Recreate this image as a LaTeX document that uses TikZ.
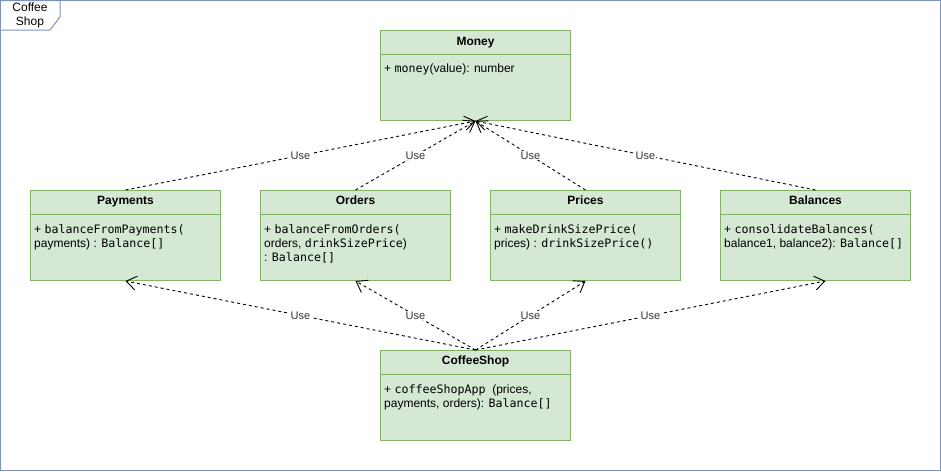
\documentclass[tikz,border=0pt]{standalone}
\usepackage{fontspec}
\setmainfont{Liberation Sans}
\newfontfamily\cdfont{DejaVu Sans Mono}[Scale=0.97]
\newcommand{\cd}[1]{{\cdfont #1}}
\usetikzlibrary{arrows.meta}
\definecolor{classfill}{HTML}{D5E8D4}
\definecolor{classdraw}{HTML}{82B366}
\definecolor{framecol}{HTML}{7D92B8}
\definecolor{lblcol}{HTML}{333333}
\tikzset{
  cls/.style={draw=classdraw, fill=classfill, line width=1pt, minimum width=190pt, minimum height=90pt, anchor=north west, inner sep=0pt},
  sepline/.style={draw=classdraw, line width=1pt},
  ttl/.style={font=\bfseries\fontsize{12}{14}\selectfont, anchor=base, inner sep=0pt},
  body/.style={font=\fontsize{12}{14}\selectfont, align=left, anchor=north west, inner sep=0pt},
  use/.style={draw=black, line width=0.9pt, dash pattern=on 3pt off 3pt, -{Straight Barb[length=10pt,width=14pt]}},
  lbl/.style={fill=white, font=\fontsize{11}{13}\selectfont, text=lblcol, inner sep=1pt},
  frm/.style={draw=framecol, line width=1pt}
}
\begin{document}
\begin{tikzpicture}[x=1pt,y=-1pt]
\useasboundingbox (0,0) rectangle (941,471);
% outer frame
\draw[frm] (0.5,0.5) rectangle (940.5,470.5);
\draw[frm] (0.5,0.5) -- (60,0.5) -- (60,17) -- (50,30) -- (0.5,30);
\node[font=\fontsize{12}{14}\selectfont, align=center, inner sep=0pt] (frameT) at (30,15) {Coffee\\Shop};

% classes
\node[cls] (money) at (380,30) {};
\node[cls] (pay) at (30,190) {};
\node[cls] (ord) at (260,190) {};
\node[cls] (pri) at (490,190) {};
\node[cls] (bal) at (720,190) {};
\node[cls] (shop) at (380,350) {};

\foreach \n in {money,pay,ord,pri,bal,shop}{
  \draw[sepline] ([yshift=-24.5pt]\n.north west) -- ([yshift=-24.5pt]\n.north east);
}

\node[ttl] (moneyT) at ([yshift=-15pt]money.north) {Money};
\node[ttl] (payT) at ([yshift=-14.5pt]pay.north) {Payments};
\node[ttl] (ordT) at ([yshift=-14.5pt]ord.north) {Orders};
\node[ttl] (priT) at ([yshift=-14.5pt]pri.north) {Prices};
\node[ttl] (balT) at ([yshift=-14.5pt]bal.north) {Balances};
\node[ttl] (shopT) at ([yshift=-14.5pt]shop.north) {CoffeeShop};

\node[body] (moneyB) at ([xshift=4pt,yshift=-34pt]money.north west) {+ \cd{money}(value): number};
\node[body] (payB) at ([xshift=4pt,yshift=-34pt]pay.north west) {+ \cd{balanceFromPayments(}\\payments) : \cd{Balance[]}};
\node[body] (ordB) at ([xshift=4pt,yshift=-34pt]ord.north west) {+ \cd{balanceFromOrders(}\\orders, \cd{drinkSizePrice})\\: \cd{Balance[]}};
\node[body] (priB) at ([xshift=4pt,yshift=-34pt]pri.north west) {+ \cd{makeDrinkSizePrice(}\\prices) : \cd{drinkSizePrice()}};
\node[body] (balB) at ([xshift=4pt,yshift=-34pt]bal.north west) {+ \cd{consolidateBalances(}\\balance1, balance2): \cd{Balance[]}};
\node[body] (shopB) at ([xshift=4pt,yshift=-34pt]shop.north west) {+ \cd{coffeeShopApp} \ (prices,\\payments, orders): \cd{Balance[]}};

% dependencies
\draw[use] (pay.north) -- node[lbl] {Use} (money.south);
\draw[use] (ord.north) -- node[lbl] {Use} (money.south);
\draw[use] (pri.north) -- node[lbl] {Use} (money.south);
\draw[use] (bal.north) -- node[lbl] {Use} (money.south);

\coordinate (balIn) at ([xshift=10pt]bal.south);
\draw[use] (shop.north) -- node[lbl] {Use} (pay.south);
\draw[use] (shop.north) -- node[lbl] {Use} (ord.south);
\draw[use] (shop.north) -- node[lbl] {Use} (pri.south);
\draw[use] (shop.north) -- node[lbl] {Use} (balIn);
\end{tikzpicture}
\end{document}
